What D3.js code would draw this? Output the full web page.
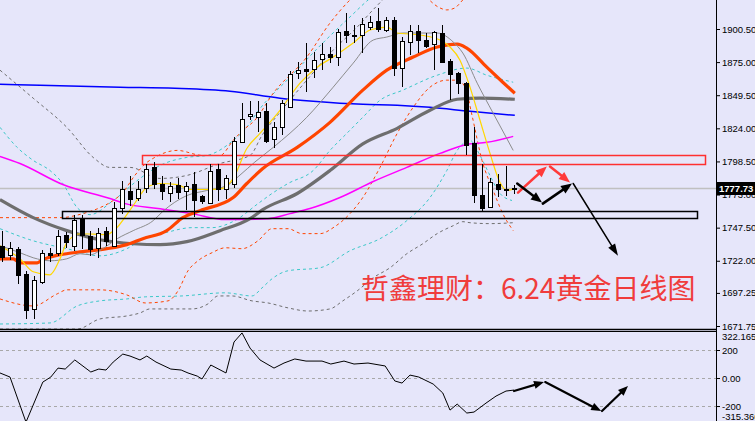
<!DOCTYPE html>
<html><head><meta charset="utf-8">
<script src="https://cdn.jsdelivr.net/npm/d3@7/dist/d3.min.js"></script>
<style>html,body{margin:0;padding:0;background:#e6e6fa;} svg{display:block}</style>
</head><body><svg id="c" width="755" height="421"></svg>
<script>
// ---------- DATA ----------
const openP  = [1733.6,1726.6,1731.3,1711.9,1684.9,1705.8,1728.2,1728.2,1742.1,1733.6,1755.2,1741.3,1732.0,1745.2,1733.6,1762.9,1776.1,1770.7,1778.4,1793.9,1781.5,1774.5,1780.7,1776.1,1781.5,1772.2,1766.8,1792.3,1777.6,1781.5,1813.2,1833.3,1832.5,1837.1,1815.5,1824.8,1840.2,1866.5,1869.6,1869.6,1877.3,1881.2,1878.9,1899.0,1895.9,1895.9,1902.0,1906.7,1899.7,1907.5,1870.4,1890.5,1899.0,1892.0,1888.9,1897.4,1875.8,1866.5,1858.8,1812.4,1773.0,1763.7,1781.5,1777.6,1777.6];
const highP  = [1745.2,1736.7,1732.8,1714.3,1710.4,1730.5,1732.0,1745.9,1744.4,1757.5,1757.5,1745.2,1747.5,1748.3,1767.6,1783.8,1786.9,1783.8,1796.2,1797.7,1786.9,1783.0,1785.4,1782.3,1790.0,1773.0,1796.9,1796.9,1788.4,1817.0,1843.3,1844.9,1844.9,1843.3,1828.6,1845.6,1868.0,1875.0,1889.7,1882.7,1889.7,1886.6,1900.5,1912.9,1903.6,1909.0,1910.5,1916.7,1909.8,1909.8,1894.3,1903.6,1903.6,1897.4,1899.0,1903.6,1877.3,1867.3,1859.5,1824.8,1796.9,1786.1,1789.2,1794.6,1780.7];
const lowP   = [1721.2,1722.8,1704.2,1677.2,1677.2,1704.2,1721.2,1725.8,1732.0,1729.7,1731.3,1725.8,1724.3,1733.6,1732.8,1758.3,1764.5,1768.4,1774.5,1777.6,1769.1,1767.6,1769.9,1761.4,1756.0,1766.0,1766.0,1768.4,1769.9,1778.4,1812.4,1830.2,1820.9,1812.4,1808.5,1818.6,1840.2,1861.9,1851.8,1862.6,1868.8,1874.2,1871.9,1889.7,1889.7,1882.0,1899.7,1898.2,1898.2,1864.2,1855.7,1880.4,1882.0,1885.8,1868.8,1874.2,1845.6,1850.3,1803.1,1766.8,1760.6,1763.7,1771.4,1772.2,1773.8];
const closeP = [1725.1,1732.0,1711.2,1684.1,1707.3,1728.2,1726.6,1741.3,1736.7,1753.7,1742.1,1731.3,1743.6,1737.4,1762.9,1776.9,1769.9,1777.6,1792.3,1781.5,1776.1,1779.9,1775.3,1779.2,1769.1,1768.4,1790.8,1777.6,1785.4,1813.9,1830.9,1834.8,1836.4,1813.9,1824.8,1843.3,1865.7,1868.8,1868.0,1876.5,1881.2,1878.9,1898.2,1895.9,1895.6,1904.4,1905.9,1900.5,1907.5,1870.4,1891.2,1899.0,1892.0,1887.4,1898.2,1875.0,1865.7,1858.8,1810.9,1773.0,1762.9,1782.3,1777.6,1777.3,1777.73];
const lastPrice = 1777.73;

// moving averages: [candle index, price]
const ma5 = [[-0.25,1733.6],[2.25,1723.5],[3.9,1713.5],[6,1711.2],[7.25,1723.5],[8.1,1735.9],[9.75,1742.8],[13.1,1742.1],[14.1,1745.9],[16.4,1764.5],[18.1,1778.4],[19.75,1781.5],[21.9,1780.7],[23.5,1776.9],[25.4,1776.9],[27.5,1777.6],[28.9,1785.4],[30.6,1808.5],[32.25,1820.1],[34.75,1837.9],[37.25,1858.8],[39.4,1871.1],[41.4,1878.9],[43.9,1889.7],[46,1899.7],[48.1,1902.0],[49.4,1897.4],[52.25,1895.9],[54.75,1892.0],[56,1886.6],[57.25,1876.5],[58.5,1855.7],[59.75,1830.2],[61,1804.7],[62.25,1782.3],[63.1,1776.1],[64,1777.6]];
const ma10 = [[-0.25,1733.6],[2.25,1728.2],[3.9,1724.3],[6,1722.0],[8.1,1723.5],[9.75,1727.4],[11,1726.6],[12.6,1731.3],[14.4,1739.0],[16.4,1745.2],[18.9,1752.9],[20.1,1760.0],[23.1,1772.2],[25.6,1776.1],[28.1,1779.9],[29.75,1788.0],[31.6,1798.0],[33.9,1809.3],[38.1,1832.5],[41.4,1855.7],[43.9,1874.2],[46.4,1892.0],[48.1,1894.3],[50.1,1897.4],[54.4,1897.4],[56.4,1890.5],[57.6,1882.0],[59.4,1858.8],[61.4,1835.6],[63.9,1807.0]];
const ma20 = [[-0.25,1723.5],[1.4,1723.5],[2.25,1720.4],[4.4,1720.4],[5.1,1722.8],[7.25,1726.6],[10.1,1729.0],[13.1,1731.3],[15.6,1734.4],[17.6,1739.0],[20.6,1745.2],[22.6,1755.2],[24.75,1760.6],[28.9,1770.7],[30.6,1781.5],[32.6,1793.1],[36.9,1809.3],[41,1828.6],[45.1,1853.4],[48.1,1868.8],[51.4,1878.9],[54.4,1886.6],[56.9,1888.9],[58.1,1885.8],[60.6,1871.1],[62.6,1859.5],[64.1,1851.0]];
const ma60 = [[-0.25,1769.1],[3.9,1755.2],[8.1,1745.2],[12.25,1738.2],[16.4,1735.1],[19.75,1734.4],[23.1,1736.7],[27.25,1745.2],[31,1754.4],[32.6,1761.4],[36.9,1773.8],[41,1791.5],[45.1,1812.0],[49.4,1824.0],[53.5,1837.9],[56.9,1846.4],[59.75,1847.2],[64.1,1846.4]];
const ma120 = [[-0.25,1802.4],[2.25,1796.9],[7.6,1780.7],[13.5,1769.9],[15.4,1766.0],[19.5,1762.2],[23.75,1758.3],[27.9,1753.7],[33.25,1754.4],[36,1758.3],[38.5,1762.2],[42.25,1770.7],[46.4,1783.0],[50.6,1793.9],[54.75,1804.7],[58.1,1811.6],[60.6,1813.2],[63.9,1817.8]];
const ma250 = [[-0.25,1858.0],[4.75,1857.2],[14.75,1855.7],[21.6,1854.9],[28.5,1852.6],[34.75,1847.2],[38.9,1844.9],[45.1,1842.5],[49.4,1841.8],[53.5,1840.2],[58.5,1837.1],[64.1,1834.0]];

// band lines (dashed): [candle index, price]
const orangeUpper = [[-0.25,1755.2],[7.25,1755.2],[10.1,1758.3],[12.25,1762.9],[13.9,1768.4],[15.1,1774.5],[16.6,1787.7],[18.1,1797.7],[18.9,1800.9],[21.9,1807.0],[25.1,1803.1],[27.25,1803.1],[28.9,1814.7],[30.1,1822.4],[31.6,1830.2],[33.9,1851.0],[38.1,1878.9],[41,1905.1],[43.5,1922.9],[46,1936.0],[49.75,1942.0],[52.5,1928.0],[54.75,1916.7],[55.6,1915.2],[56.6,1916.7],[57.6,1922.9],[61,1946.1],[64.1,1957.7]];
const orangeLower = [[-0.25,1692.6],[3.9,1687.2],[6.9,1696.5],[8.1,1699.6],[12.25,1699.6],[15.6,1695.7],[17.9,1689.5],[20.75,1691.1],[22,1698.8],[23.25,1714.3],[24.5,1722.0],[26.25,1728.2],[27.9,1732.0],[30,1731.3],[32,1737.4],[33.75,1746.7],[35.75,1746.7],[37.5,1742.9],[39.75,1742.9],[41.6,1748.3],[43.5,1758.3],[45.1,1770.7],[47.25,1793.9],[49.4,1820.1],[51.4,1840.2],[53.5,1855.7],[55.6,1861.1],[56.9,1861.1],[57.9,1855.7],[58.75,1834.0],[60,1799.3],[61.4,1776.1],[62.6,1758.3],[63.9,1745.2]];
const cyanUpper = [[-0.25,1824.8],[1.9,1809.3],[3.9,1799.3],[6,1791.5],[7.6,1781.5],[9.4,1762.9],[11,1757.5],[13.9,1768.4],[17.25,1785.4],[19.75,1795.4],[23.1,1801.6],[25.6,1803.1],[28.9,1814.7],[30.6,1824.8],[31.9,1836.4],[36,1863.4],[40.1,1889.7],[43.5,1909.8],[46.6,1926.8],[52.25,1938.4],[59.75,1946.1],[64.1,1953.8]];
const cyanMid = [[-0.25,1746.7],[3.9,1737.4],[8.1,1731.3],[12.25,1725.8],[15.6,1731.3],[17.9,1739.8],[20.4,1743.6],[23.75,1747.5],[26.25,1747.5],[29.1,1752.9],[32,1766.0],[33.75,1773.8],[35.75,1781.5],[38.9,1791.5],[41,1807.0],[43.1,1820.1],[45.1,1832.5],[47.25,1845.6],[50.1,1853.4],[54.4,1864.9],[58.1,1870.4],[60.6,1864.9],[63.9,1859.5]];
const cyanLower = [[-0.25,1673.3],[6,1674.1],[9.4,1687.2],[12.25,1691.1],[15.6,1692.6],[17.9,1694.2],[22.5,1694.9],[27.9,1697.3],[31.25,1694.9],[32.5,1701.1],[33.75,1708.1],[35.75,1714.3],[39.75,1716.6],[43.5,1729.7],[47.25,1739.0],[50.6,1752.9],[53.5,1770.7],[55.6,1791.5],[56.9,1807.0],[58.5,1814.7],[59.75,1803.1],[61,1787.7],[62.25,1773.8],[63.75,1768.4]];
const greyUpper = [[-0.25,1868.8],[3.9,1847.2],[8.1,1824.8],[11.4,1801.6],[13.5,1793.9],[16,1793.9],[19.75,1785.4],[23.1,1787.7],[27.25,1796.9],[31,1803.1],[32.5,1818.6],[34.75,1836.4],[38.1,1861.1],[41.4,1884.3],[44.4,1902.0],[46.6,1916.7],[49.75,1934.5],[56,1946.1],[64.1,1953.8]];
const greyLower = [[-0.25,1669.4],[9.4,1669.4],[12.25,1677.2],[15.6,1679.5],[17.25,1681.8],[18.5,1684.9],[23.75,1684.9],[25.75,1688.8],[27,1694.9],[28.75,1694.9],[31.25,1691.1],[33.25,1689.5],[35.75,1685.7],[38.25,1683.3],[41,1684.9],[42.6,1691.1],[44.4,1698.8],[46.4,1708.9],[48.5,1716.6],[50.6,1727.4],[52.6,1735.1],[54.4,1742.9],[56.4,1749.0],[57.6,1752.1],[58.5,1751.3],[61,1750.6],[63.9,1751.3]];

// indicator (oscillator): [candle index, value]
const osc = [[-0.25,36],[1,7],[3,-315],[5.1,-29],[6.1,7],[7,71],[7.9,64],[9.1,129],[11.1,43],[12.1,64],[13,57],[13.9,114],[15.1,171],[16,157],[17.25,129],[18.1,157],[19.25,114],[21.1,64],[22.4,57],[23.25,36],[24.4,14],[25,-7],[26.1,93],[28,36],[29,257],[30,322],[31,214],[32.25,129],[34,71],[35.25,107],[36.6,136],[38,121],[40,121],[41.1,100],[42.75,121],[44,100],[45.75,107],[47.9,86],[49.1,-21],[50,-36],[51,21],[52.1,7],[53.9,-43],[55.1,-107],[56,-229],[56.9,-186],[58.1,-250],[59,-243],[60.5,-179],[61.75,-129],[63,-93],[64,-86]];

// axis labels
const priceTicks = [1900.50,1875.00,1849.50,1824.00,1798.50,1773.00,1747.50,1722.00,1697.25,1671.75];
const oscTicks = [200,0,-200];
const oscMax = 322.1653, oscMin = -315.366;

// annotations
const redZone = {i0:17.5, i1:87.9, pTop:1803.1, pBot:1796.9};
const blackZone = {i0:7.5, i1:86.9, pTop:1760.6, pBot:1755.2};
const redArrows = [[64.5,1774.5,68.1,1794.6],[68.5,1794.6,71,1782.3]];
const blackArrows = [[64.4,1781.5,67.5,1766.8],[67.6,1766.0,71.25,1781.5]];
const longArrow = [71.4,1781.5,77,1725.8];
const oscArrows = [[64,-93,67.75,-29],[67.9,-29,74.9,-236],[75,-236,78.25,-57]];
const titleText = "哲鑫理财：6.24黄金日线图";

// ---------- CHART ----------
const svg = d3.select("#c");
const plotR = 716, mainB = 329, indT = 331;
const x = d3.scaleLinear().domain([0,64]).range([2,514]);
const y = d3.scaleLinear().domain([1671.75,1900.5]).range([326,29]);
const yo = d3.scaleLinear().domain([oscMin,oscMax]).range([422.2,332.9]);

svg.append("rect").attr("width",755).attr("height",421).attr("fill","#e6e6fa");
const defs = svg.append("defs");
defs.append("clipPath").attr("id","cm").append("rect").attr("x",0).attr("y",0).attr("width",plotR).attr("height",mainB);
defs.append("clipPath").attr("id","ci").append("rect").attr("x",0).attr("y",indT).attr("width",plotR).attr("height",421-indT);

const gm = svg.append("g").attr("clip-path","url(#cm)");
const gi = svg.append("g").attr("clip-path","url(#ci)");

const line = d3.line().x(d=>x(d[0])).y(d=>y(d[1])).curve(d3.curveMonotoneX);

// current price line
gm.append("line").attr("x1",0).attr("x2",plotR).attr("y1",Math.round(y(lastPrice))+0.5).attr("y2",Math.round(y(lastPrice))+0.5)
  .attr("stroke","#c0c0c0").attr("stroke-width",1.5);

// dashed bands
const dashed = [
  [greyUpper,"#6e6e6e"],[greyLower,"#6e6e6e"],
  [cyanUpper,"#3cc8c8"],[cyanMid,"#3cc8c8"],[cyanLower,"#3cc8c8"],
  [orangeUpper,"#ff4500"],[orangeLower,"#ff4500"]
];
dashed.forEach(([d,c])=>{
  gm.append("path").attr("d",line(d)).attr("fill","none").attr("stroke",c).attr("stroke-width",1).attr("stroke-dasharray","3,3");
});

// MAs
const solid = [
  [ma250,"#0000ff",1.5],[ma120,"#ff00ff",1.5],[ma60,"#6e6e6e",3.2],
  [ma20,"#ff4500",3.2],[ma10,"#8c8c8c",1],[ma5,"#ffd700",1.2]
];
solid.forEach(([d,c,w])=>{
  gm.append("path").attr("d",line(d)).attr("fill","none").attr("stroke",c).attr("stroke-width",w).attr("stroke-linejoin","round");
});

// zones
function zone(z,color){
  const x0=Math.round(x(z.i0))+0.5, x1=Math.round(x(z.i1))+0.5;
  const y0=Math.round(y(z.pTop))+0.5, y1=Math.round(y(z.pBot))+0.5;
  gm.append("rect").attr("x",x0).attr("y",y0).attr("width",x1-x0).attr("height",y1-y0)
    .attr("fill","none").attr("stroke",color).attr("stroke-width",1.5);
}
zone(redZone,"#ff3030");
zone(blackZone,"#000");

// candles
const idx = d3.range(openP.length);
const cg = gm.append("g").attr("shape-rendering","crispEdges");
idx.forEach(i=>{
  const cx = Math.round(x(i))+0.5;
  const o=openP[i], c=closeP[i];
  const bull = c>=o;
  cg.append("line").attr("x1",cx).attr("x2",cx).attr("y1",y(highP[i])).attr("y2",y(lowP[i])).attr("stroke","#000").attr("stroke-width",1);
  const top = Math.round(y(Math.max(o,c))), bot = Math.round(y(Math.min(o,c)));
  const h = Math.max(1,bot-top);
  cg.append("rect").attr("x",cx-2).attr("y",top+0.5).attr("width",4).attr("height",h)
    .attr("fill",bull?"#fff":"#000").attr("stroke","#000").attr("stroke-width",1);
});

// arrows
function arrow(g,x1,y1,x2,y2,color,sw,hl,hw){
  const dx=x2-x1, dy=y2-y1, L=Math.hypot(dx,dy), ux=dx/L, uy=dy/L, px=-uy, py=ux;
  const bx=x2-ux*hl, by=y2-uy*hl;
  g.append("line").attr("x1",x1).attr("y1",y1).attr("x2",bx+ux*2).attr("y2",by+uy*2)
    .attr("stroke",color).attr("stroke-width",sw).attr("stroke-linecap","round");
  g.append("path").attr("d",`M${x2},${y2}L${bx+px*hw/2},${by+py*hw/2}L${bx-px*hw/2},${by-py*hw/2}Z`).attr("fill",color);
}
const ga = svg.append("g");
redArrows.forEach(a=>arrow(ga,x(a[0]),y(a[1]),x(a[2]),y(a[3]),"#ff3a3a",2.5,11,9));
blackArrows.forEach(a=>arrow(ga,x(a[0]),y(a[1]),x(a[2]),y(a[3]),"#000",2.5,11,9));
arrow(ga,x(longArrow[0]),y(longArrow[1]),x(longArrow[2]),y(longArrow[3]),"#000",1.5,12,8);

// title
svg.append("text").attr("x",361).attr("y",299).text(titleText)
  .attr("font-family","'Noto Sans CJK SC','Noto Sans',sans-serif").attr("font-size",28)
  .attr("fill","#f03c3c");

// indicator
const oline = d3.line().x(d=>x(d[0])).y(d=>yo(d[1])).curve(d3.curveLinear);
oscTicks.forEach(v=>{
  gi.append("line").attr("x1",0).attr("x2",plotR).attr("y1",Math.round(yo(v))+0.5).attr("y2",Math.round(yo(v))+0.5)
    .attr("stroke","#a8a8a8").attr("stroke-width",1).attr("stroke-dasharray","3,3");
});
gi.append("path").attr("d",oline(osc)).attr("fill","none").attr("stroke","#000").attr("stroke-width",1);
oscArrows.forEach(a=>arrow(svg,x(a[0]),yo(a[1]),x(a[2]),yo(a[3]),"#000",2.2,10,8));

// panel separators
svg.append("line").attr("x1",0).attr("x2",plotR).attr("y1",mainB+0.5).attr("y2",mainB+0.5).attr("stroke","#000").attr("stroke-width",1.5);
svg.append("line").attr("x1",0).attr("x2",plotR).attr("y1",indT+0.5).attr("y2",indT+0.5).attr("stroke","#000").attr("stroke-width",1);
svg.append("line").attr("x1",plotR+0.5).attr("x2",plotR+0.5).attr("y1",0).attr("y2",421).attr("stroke","#000").attr("stroke-width",1);

// price axis
const fontAx = "'Liberation Sans',Arial,sans-serif";
const ax = d3.axisRight(y).tickValues(priceTicks).tickSize(4).tickSizeOuter(0).tickFormat(d=>d.toFixed(2));
const gax = svg.append("g").attr("transform",`translate(${plotR},0)`).call(ax);
gax.select(".domain").remove();
gax.selectAll("text").attr("font-family",fontAx).attr("font-size",9.5).attr("fill","#000").attr("x",6);
gax.selectAll("line").attr("stroke","#000");

// current price tag
const yl = Math.round(y(lastPrice));
svg.append("rect").attr("x",plotR+1).attr("y",yl-6).attr("width",38).attr("height",13).attr("fill","#000");
svg.append("text").attr("x",plotR+3).attr("y",yl+4).text(lastPrice.toFixed(2)).attr("font-family",fontAx)
  .attr("font-size",9.5).attr("font-weight","bold").attr("fill","#fff");

// osc axis
const axo = d3.axisRight(yo).tickValues(oscTicks).tickSize(4).tickSizeOuter(0).tickFormat(d=>d===0?"0.00":String(d));
const gao = svg.append("g").attr("transform",`translate(${plotR},0)`).call(axo);
gao.select(".domain").remove();
gao.selectAll("text").attr("font-family",fontAx).attr("font-size",9.5).attr("fill","#000").attr("x",6);
svg.append("text").attr("x",plotR+6).attr("y",yo(oscMax)+7).text(oscMax.toFixed(4)).attr("font-family",fontAx).attr("font-size",9.5);
svg.append("text").attr("x",plotR+6).attr("y",yo(oscMin)-2).text(oscMin.toFixed(3)).attr("font-family",fontAx).attr("font-size",9.5);
</script></body></html>
